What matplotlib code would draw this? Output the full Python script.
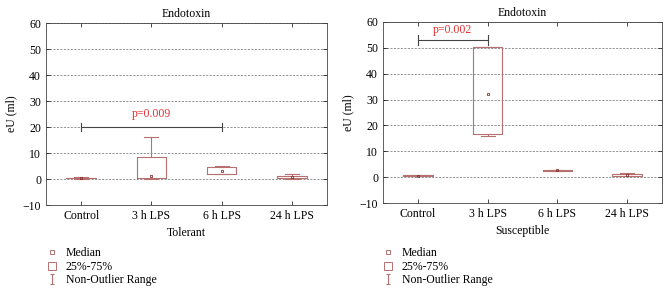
import matplotlib
matplotlib.use('Agg')
import matplotlib.pyplot as plt
from matplotlib.lines import Line2D
from matplotlib.path import Path

plt.rcParams['font.family'] = ['Liberation Serif', 'DejaVu Serif']

groups = ['Control', '3 h LPS', '6 h LPS', '24 h LPS']

# tolerant: whisker low, q1, median, q3, whisker high
tol_lo = [0.1, 0.0, 2.0, 0.0]
tol_q1 = [0.2, 0.5, 2.0, 0.2]
tol_med = [0.3, 1.0, 3.0, 0.7]
tol_q3 = [0.5, 8.5, 4.5, 1.2]
tol_hi = [0.6, 16.2, 5.0, 2.0]

# susceptible
sus_lo = [0.3, 16.0, 2.5, 0.5]
sus_q1 = [0.3, 16.7, 2.5, 0.5]
sus_med = [0.5, 32.2, 2.7, 0.9]
sus_q3 = [0.8, 50.2, 2.9, 1.3]
sus_hi = [0.8, 50.2, 2.9, 1.5]

box_col = '#b5706f'
dark_col = '#8a3030'

fig = plt.figure(figsize=(6.7, 2.93), dpi=100)
ax1 = fig.add_axes([46/670, 1-205/293, 281/670, 182/293])
ax2 = fig.add_axes([383/670, 1-203/293, 279/670, 181/293])


def draw_panel(ax, lo, q1, med, q3, hi, xlab):
    stats = []
    for i in range(len(groups)):
        stats.append({'whislo': lo[i], 'q1': q1[i], 'med': med[i], 'q3': q3[i],
                      'whishi': hi[i], 'fliers': [], 'label': groups[i]})
    pos = [0.5, 1.5, 2.5, 3.5]
    ax.bxp(stats, positions=pos, widths=0.42, showfliers=False,
           boxprops=dict(color=box_col, linewidth=0.8),
           whiskerprops=dict(color=box_col, linewidth=0.8),
           capprops=dict(color=box_col, linewidth=0.8),
           medianprops=dict(linewidth=0),
           capwidths=0.2)
    ax.plot(pos, med, 's', ms=1.8, mfc='none', mec=dark_col, mew=0.6, ls='none')
    ax.set_xlim(0, 4)
    ax.set_ylim(-10, 60)
    ax.set_yticks(range(-10, 61, 10))
    ax.set_xticks(pos)
    ax.set_xticklabels(groups)
    ax.yaxis.grid(True, ls='--', color='#666666', lw=0.5, dashes=(3, 2))
    ax.set_axisbelow(True)
    ax.tick_params(labelsize=8.5, direction='in', length=3, top=True, right=True, width=0.5)
    for s in ax.spines.values():
        s.set_linewidth(0.6)
        s.set_color('#444444')
    ax.set_title('Endotoxin', fontsize=8.5, pad=4)
    ax.set_ylabel('eU (ml)', fontsize=8.5)
    ax.set_xlabel(xlab, fontsize=8.5, labelpad=4)


draw_panel(ax1, tol_lo, tol_q1, tol_med, tol_q3, tol_hi, 'Tolerant')
draw_panel(ax2, sus_lo, sus_q1, sus_med, sus_q3, sus_hi, 'Susceptible')

# significance brackets
ax1.plot([0.5, 2.5], [20, 20], color='#444444', lw=0.8)
ax1.plot([0.5, 0.5], [18.5, 21.5], color='#444444', lw=0.8)
ax1.plot([2.5, 2.5], [18.5, 21.5], color='#444444', lw=0.8)
ax1.text(1.5, 22.5, 'p=0.009', color='#e03030', fontsize=8.5, ha='center', va='bottom')

ax2.plot([0.5, 1.5], [53, 53], color='#444444', lw=0.8)
ax2.plot([0.5, 0.5], [51, 55], color='#444444', lw=0.8)
ax2.plot([1.5, 1.5], [51, 55], color='#444444', lw=0.8)
ax2.text(1.0, 54.5, 'p=0.002', color='#e03030', fontsize=8.5, ha='center', va='bottom')

whisk = Path([(-0.5, 1), (0.5, 1), (0, 1), (0, -1), (-0.5, -1), (0.5, -1)],
             [Path.MOVETO, Path.LINETO, Path.MOVETO, Path.LINETO, Path.MOVETO, Path.LINETO])
handles = [
    Line2D([], [], marker='s', ms=2.5, mfc='none', mec=box_col, mew=0.7, ls='none'),
    Line2D([], [], marker='s', ms=5.5, mfc='none', mec=box_col, mew=0.7, ls='none'),
    Line2D([], [], marker=whisk, ms=7, color=box_col, mew=0.8, ls='none'),
]
labels = ['Median', '25%-75%', 'Non-Outlier Range']
for x0 in [40/670, 376/670]:
    fig.legend(handles, labels, loc='upper left', bbox_to_anchor=(x0, 1-241/293),
               frameon=False, fontsize=8.5, handlelength=1.0, handletextpad=0.7,
               labelspacing=0.15, borderpad=0)

fig.savefig('out.png', dpi=100)
